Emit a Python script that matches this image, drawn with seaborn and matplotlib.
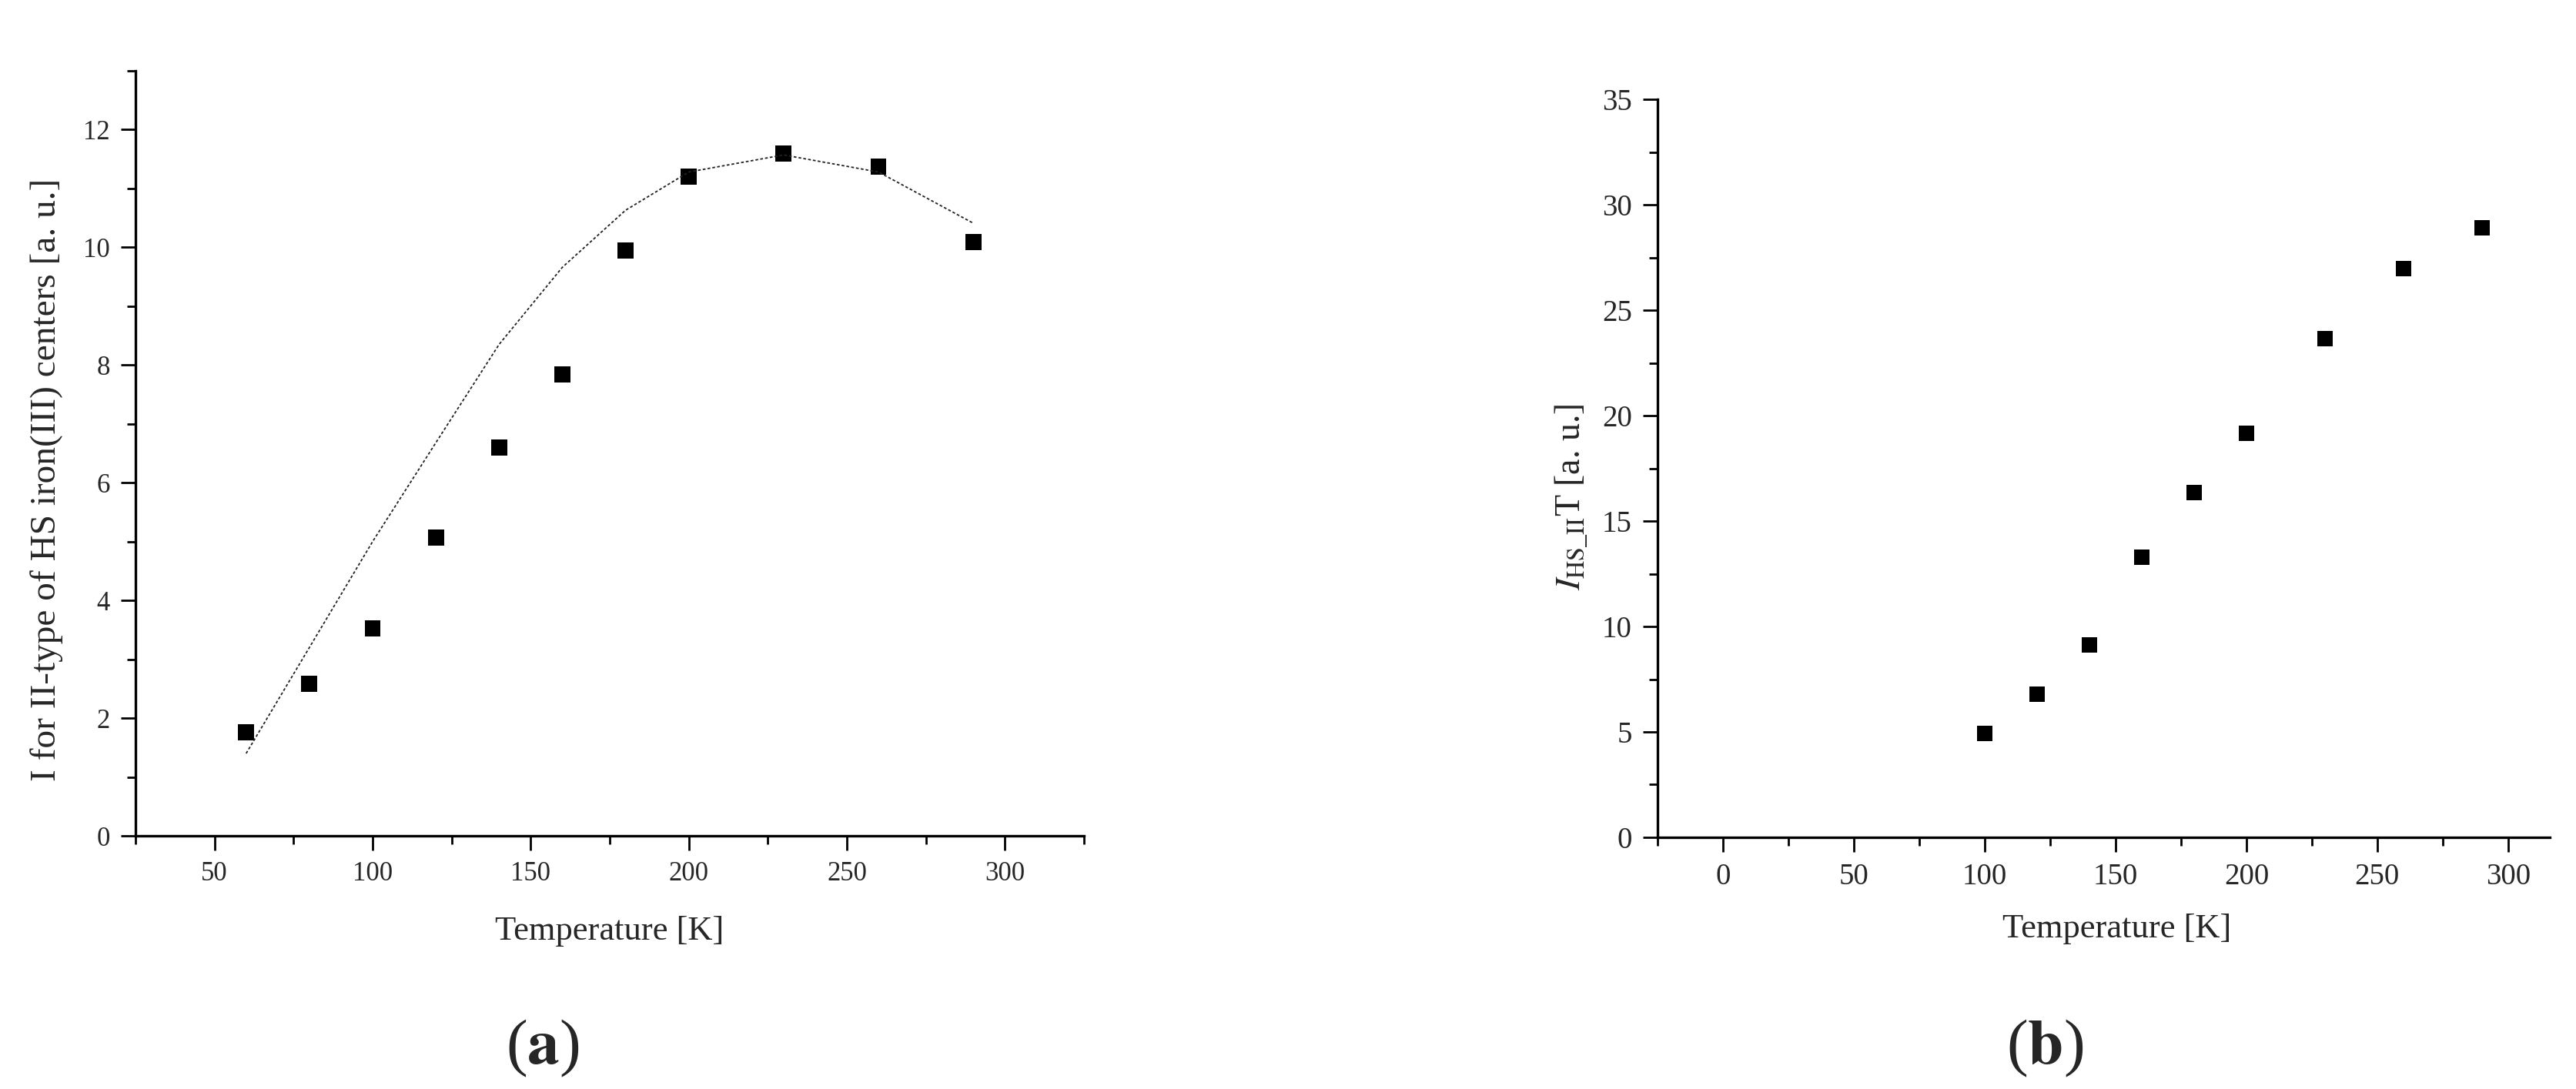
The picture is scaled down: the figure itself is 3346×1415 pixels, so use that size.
import pandas as pd
import seaborn as sns
import matplotlib.pyplot as plt
from matplotlib.ticker import MultipleLocator

##
# data

temp_a = [60, 80, 100, 120, 140, 160, 180, 200, 230, 260, 290]
intensity_a = [1.76, 2.58, 3.53, 5.07, 6.60, 7.84, 9.95, 11.20, 11.59, 11.37, 10.09]
fit_a = [1.40, 3.20, 5.00, 6.68, 8.35, 9.66, 10.63, 11.28, 11.57, 11.28, 10.41]

temp_b = [100, 120, 140, 160, 180, 200, 230, 260, 290]
ihs_t_b = [4.92, 6.79, 9.14, 13.29, 16.34, 19.15, 23.66, 26.97, 28.89]

df_a = pd.DataFrame({'T': temp_a, 'I': intensity_a, 'fit': fit_a})
df_b = pd.DataFrame({'T': temp_b, 'IT': ihs_t_b})

##
# style

sns.set_style('ticks')
plt.rcParams['font.family'] = ['Liberation Serif', 'DejaVu Serif']
plt.rcParams['mathtext.fontset'] = 'stix'

fig = plt.figure(figsize=(33.46, 14.15), dpi=100)
ax_a = fig.add_axes([0.0526, 0.2325, 0.3682, 0.7025])
ax_b = fig.add_axes([0.6435, 0.2311, 0.3464, 0.6777])


def style_axis(ax, xlim, ylim, xmaj, xmin, ymaj, ymin, labelsize):
    ax.set_xlim(*xlim)
    ax.set_ylim(*ylim)
    ax.xaxis.set_major_locator(MultipleLocator(xmaj))
    ax.xaxis.set_minor_locator(MultipleLocator(xmin))
    ax.yaxis.set_major_locator(MultipleLocator(ymaj))
    ax.yaxis.set_minor_locator(MultipleLocator(ymin))
    sns.despine(ax=ax)
    for side in ['left', 'bottom']:
        ax.spines[side].set_linewidth(2.4)
        ax.spines[side].set_color('black')
    ax.tick_params(which='major', direction='out', length=14, width=2,
                   labelsize=labelsize, pad=10, color='black')
    ax.tick_params(which='minor', direction='out', length=8, width=2,
                   color='black')


##
# (a) intensity with model curve

sns.lineplot(data=df_a, x='T', y='fit', ax=ax_a, color='#222222',
             linewidth=1.3, linestyle=(0, (2, 1.5)))
sns.scatterplot(data=df_a, x='T', y='I', ax=ax_a, marker='s', s=225,
                color='black', edgecolor='none')
style_axis(ax_a, (25, 325), (0, 13), 50, 25, 2, 1, 25)
ax_a.set_xlabel('Temperature [K]', fontsize=32)
ax_a.set_ylabel('I for II-type of HS iron(III) centers [a. u.]', fontsize=34)
ax_a.xaxis.set_label_coords(0.5, -0.125)
ax_a.xaxis.label.set_va('center')
ax_a.yaxis.set_label_coords(-0.094, 0.465)
ax_a.yaxis.label.set_va('center')

##
# (b) I_HS_II * T

sns.scatterplot(data=df_b, x='T', y='IT', ax=ax_b, marker='s', s=207,
                color='black', edgecolor='none')
style_axis(ax_b, (-25, 316), (0, 35), 50, 25, 5, 2.5, 28)
ax_b.set_xlabel('Temperature [K]', fontsize=32)
ax_b.set_ylabel(r'$\mathit{I}_{\mathrm{HS\_II}}$T [a. u.]', fontsize=33)
ax_b.xaxis.set_label_coords(0.515, -0.124)
ax_b.xaxis.label.set_va('center')
ax_b.yaxis.set_label_coords(-0.0975, 0.461)
ax_b.yaxis.label.set_va('center')

##
# panel letters

fig.text(705 / 3346, 1 - 1362 / 1415, r'($\mathbf{a}$)', fontsize=60,
         ha='center', va='center')
fig.text(2656 / 3346, 1 - 1362 / 1415, r'($\mathbf{b}$)', fontsize=60,
         ha='center', va='center')

fig.savefig('out.png', dpi=100)
